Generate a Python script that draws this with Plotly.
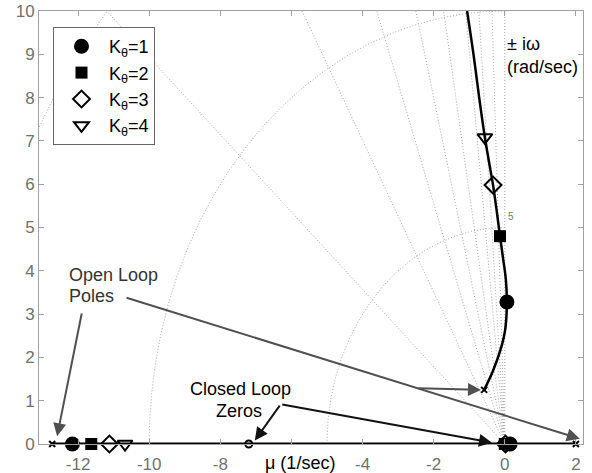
import numpy as np
import plotly.graph_objects as go

# ---------------- data ----------------
# complex root-locus branch (upper half plane), real part / imaginary part
LOCUS_X = [-0.58, -0.33, -0.08, 0.01, 0.05, 0.06, 0.03, -0.05, -0.135, -0.23, -0.33, -0.44, -0.56, -0.72, -0.88, -1.06]
LOCUS_Y = [1.25, 1.69, 2.29, 2.63, 3.0, 3.28, 3.8, 4.3, 4.8, 5.4, 5.98, 6.5, 7.08, 8.0, 9.0, 10.0]
# real-axis locus segment
REAL_X = [-12.73, 2.0]
REAL_Y = [0.0, 0.0]
# open loop poles and closed loop zeros
POLES_X = [-12.73, 2.0, -0.58]
POLES_Y = [0.0, 0.0, 1.25]
ZEROS_X = [-7.2]
ZEROS_Y = [0.0]
# closed-loop roots for each gain K_theta (real root far left, real root near 0, complex root)
K_LABELS = ["K<sub>θ</sub>=1", "K<sub>θ</sub>=2", "K<sub>θ</sub>=3", "K<sub>θ</sub>=4"]
K_X = [[-12.16, 0.15, 0.06],
       [-11.63, 0.0, -0.135],
       [-11.12, 0.02, -0.33],
       [-10.68, 0.05, -0.56]]
K_Y = [[0.0, 0.0, 3.28],
       [0.0, 0.0, 4.8],
       [0.0, 0.0, 5.98],
       [0.0, 0.0, 7.08]]
# s-plane grid: slopes |mu|/omega of constant-damping lines, natural-frequency circles
GRID_SLOPES = [0.0, 0.036, 0.073, 0.11, 0.172, 0.25, 0.36, 0.57, 1.12]
GRID_WN = [5, 10, 15]
X_TICKS = [-12, -10, -8, -6, -4, -2, 0, 2]
X_TICKTEXT = ["-12", "-10", "-8", "", "-4", "-2", "0", "2"]
Y_TICKS = list(range(0, 11))

# ---------------- figure ----------------
W, H = 592, 473
ML, MR, MT, MB = 39, 9, 11, 29
XR = [-13.1, 2.2]
YR = [0, 10]
FONT = "Liberation Sans, Arial, sans-serif"

def px(xp):
    return (xp - ML) / (W - ML - MR)

def py(yp):
    return (H - MB - yp) / (H - MT - MB)

fig = go.Figure()

GRID_STYLE = dict(color="#a8a8a8", width=1, dash="1px,2px")
for s in GRID_SLOPES:
    fig.add_trace(go.Scatter(x=[0, -s * 40], y=[0, 40], mode="lines",
                             line=GRID_STYLE, showlegend=False, hoverinfo="skip"))
th = np.linspace(np.pi / 2, np.pi, 200)
for r in GRID_WN:
    fig.add_trace(go.Scatter(x=r * np.cos(th), y=r * np.sin(th), mode="lines",
                             line=GRID_STYLE, showlegend=False, hoverinfo="skip"))

# real axis locus
fig.add_trace(go.Scatter(x=REAL_X, y=REAL_Y, mode="lines",
                         line=dict(color="black", width=3), showlegend=False))
# complex branch
fig.add_trace(go.Scatter(x=LOCUS_X, y=LOCUS_Y, mode="lines",
                         line=dict(color="black", width=2.5, shape="spline"), showlegend=False))
# poles
fig.add_trace(go.Scatter(x=POLES_X, y=POLES_Y, mode="markers", cliponaxis=False,
                         marker=dict(symbol="x-thin", size=6, line=dict(color="black", width=2)),
                         showlegend=False))
# zeros
fig.add_trace(go.Scatter(x=ZEROS_X, y=ZEROS_Y, mode="markers", cliponaxis=False,
                         marker=dict(symbol="circle-open", size=7, color="black", line=dict(width=2)),
                         showlegend=False))

SYMS = [dict(symbol="circle", size=15, color="black"),
        dict(symbol="square", size=12, color="black"),
        dict(symbol="diamond-open", size=13, color="black", line=dict(width=2, color="black")),
        dict(symbol="triangle-down-open", size=13, color="black", line=dict(width=2, color="black"))]
for lab, xs, ys, m in zip(K_LABELS, K_X, K_Y, SYMS):
    fig.add_trace(go.Scatter(x=xs, y=ys, mode="markers", name=lab, cliponaxis=False, marker=m))

ann = []
TXT = dict(color="#333333", size=18, family=FONT)
BLK = dict(color="black", size=18, family=FONT)
def text(t, xp, yp, font, xanchor="left"):
    ann.append(dict(text=t, x=px(xp), y=py(yp), xref="paper", yref="paper",
                    showarrow=False, xanchor=xanchor, yanchor="middle", font=font))

text("Open Loop", 67, 275, TXT)
text("Poles", 67, 296, TXT)
text("Closed Loop", 240, 389, BLK, "center")
text("Zeros", 239, 411, BLK, "center")
text("± iω", 505, 44, BLK)
text("(rad/sec)", 505, 67, BLK)
text("μ (1/sec)", 263, 463, BLK)
ann.append(dict(text="5", x=0.04, y=5.08, xref="x", yref="y", showarrow=False,
                xanchor="left", yanchor="bottom", font=dict(size=10, color="#777777", family=FONT)))

def arrow(x0, y0, x1, y1, color):
    ann.append(dict(text="", x=x1, y=y1, ax=x0, ay=y0, xref="x", yref="y", axref="x", ayref="y",
                    showarrow=True, arrowhead=2, arrowsize=1.3, arrowwidth=2, arrowcolor=color,
                    standoff=0, startstandoff=0))

GRAY = "#505050"
arrow(-11.89, 3.05, -12.59, 0.18, GRAY)
arrow(-10.68, 3.39, 2.11, 0.12, GRAY)
arrow(-2.47, 1.29, -0.67, 1.25, GRAY)
arrow(-6.3, 0.92, -7.03, 0.08, "#111111")
arrow(-6.3, 0.92, -0.36, 0.03, "#111111")

AX = dict(showline=True, linecolor="#a0a0a0", linewidth=1, mirror="allticks", ticks="inside",
          ticklen=5, tickcolor="#a0a0a0", showgrid=False, zeroline=False, automargin=False,
          tickfont=dict(size=17, color="#707070", family=FONT))
fig.update_layout(
    width=W, height=H, margin=dict(l=ML, r=MR, t=MT, b=MB, autoexpand=False),
    paper_bgcolor="white", plot_bgcolor="white",
    xaxis=dict(range=XR, tickvals=X_TICKS, ticktext=X_TICKTEXT, ticklabelstandoff=5, **AX),
    yaxis=dict(range=YR, tickvals=Y_TICKS, **AX),
    showlegend=True,
    legend=dict(x=px(53), y=py(27), xanchor="left", yanchor="top",
                bgcolor="white", bordercolor="#666666", borderwidth=1,
                font=dict(size=18, color="black", family=FONT), itemwidth=45,
                entrywidth=100, entrywidthmode="pixels",
                tracegroupgap=0),
    annotations=ann,
)
fig.write_html("out.html")
